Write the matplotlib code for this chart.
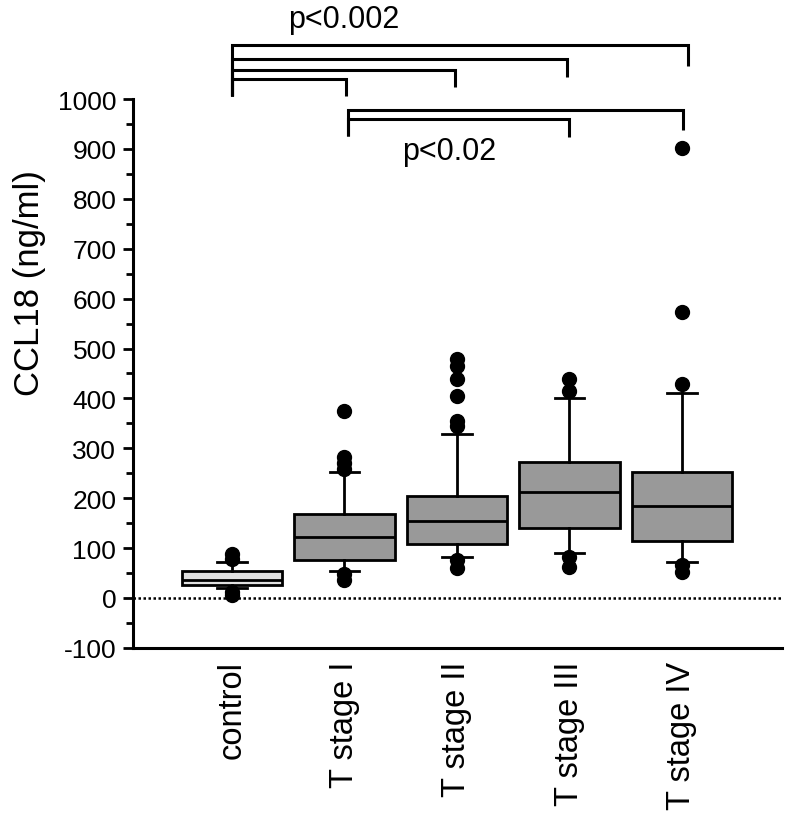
import matplotlib
matplotlib.use("Agg")
import matplotlib.pyplot as plt
from matplotlib.ticker import MultipleLocator

plt.rcParams['font.family'] = ['Liberation Sans', 'DejaVu Sans']
plt.rcParams['axes.unicode_minus'] = False

# ---- data ----
categories = ["control", "T stage I", "T stage II", "T stage III", "T stage IV"]
q1 = [26, 76, 108, 140, 114]
median = [36, 122, 154, 212, 184]
q3 = [54, 168, 204, 272, 253]
whisker_low = [20, 54, 82, 90, 72]
whisker_high = [72, 253, 329, 401, 411]
outliers_control = [88, 78, 12, 6]
outliers_t1 = [375, 282, 270, 258, 48, 36]
outliers_t2 = [479, 465, 439, 405, 355, 345, 76, 60]
outliers_t3 = [439, 415, 82, 62]
outliers_t4 = [902, 573, 429, 66, 52]
fliers = [outliers_control, outliers_t1, outliers_t2, outliers_t3, outliers_t4]
box_colors = ["#e0e0e0", "#999999", "#999999", "#999999", "#999999"]

yticks = [-100, 0, 100, 200, 300, 400, 500, 600, 700, 800, 900, 1000]

# significance annotations
p_top_label = "p<0.002"
p_bottom_label = "p<0.02"

fig = plt.figure(figsize=(7.88, 8.28), dpi=100)
ax = fig.add_axes([133/788, 1-648.9/828, (782-133)/788, (648.9-100)/828])

positions = list(range(1, len(categories) + 1))
stats = []
for i in range(len(categories)):
    stats.append(dict(med=median[i], q1=q1[i], q3=q3[i],
                      whislo=whisker_low[i], whishi=whisker_high[i],
                      fliers=fliers[i]))

lw = 2.0
bp = ax.bxp(stats, positions=positions, widths=0.89, patch_artist=True,
            capwidths=0.26,
            boxprops=dict(linewidth=lw, edgecolor='black'),
            medianprops=dict(linewidth=lw, color='black'),
            whiskerprops=dict(linewidth=lw, color='black'),
            capprops=dict(linewidth=lw, color='black'),
            flierprops=dict(marker='o', markerfacecolor='black',
                            markeredgecolor='black', markersize=10,
                            linestyle='none'))
for patch, c in zip(bp['boxes'], box_colors):
    patch.set_facecolor(c)
for f in bp['fliers']:
    f.set_zorder(5)

ax.axhline(0, color='black', linestyle=(0, (1, 1)), linewidth=1.8, zorder=0)

ax.set_xlim(0.12, 5.889)
ax.set_ylim(-100, 1000)
ax.set_yticks(yticks)
ax.yaxis.set_minor_locator(MultipleLocator(50))
ax.tick_params(axis='y', which='major', direction='out', length=7, width=2,
               labelsize=19, pad=5)
ax.tick_params(axis='y', which='minor', direction='out', length=5, width=2)
ax.set_xticks(positions)
ax.set_xticklabels(categories, rotation=90, va='top', ha='center', fontsize=23.5)
ax.tick_params(axis='x', which='both', length=0, pad=9)

for s in ['top', 'right']:
    ax.spines[s].set_visible(False)
for s in ['left', 'bottom']:
    ax.spines[s].set_linewidth(2.2)

ax.set_ylabel("CCL18 (ng/ml)", fontsize=25, va='center')
ax.yaxis.set_label_coords(-0.159, 0.667)

# brackets: (x_left, x_right, y_bar, y_left_end, y_right_end)
brackets = [
    (1.0, 5.05, 1108, 1006, 1066),
    (1.0, 3.98, 1080, 1006, 1044),
    (1.0, 2.98, 1058, 1006, 1024),
    (1.0, 2.013, 1040, 1006, 1006),
    (2.03, 5.01, 978, 926, 938),
    (2.03, 4.0, 960, 926, 924),
]
for xl, xr, yb, yl, yr in brackets:
    ax.plot([xl, xl, xr, xr], [yl, yb, yb, yr], color='black', lw=2.2,
            clip_on=False, solid_joinstyle='miter', solid_capstyle='butt')

ax.text(1.99, 1160, p_top_label, ha='center', va='center', fontsize=22,
        clip_on=False)
ax.text(2.93, 896, p_bottom_label, ha='center', va='center', fontsize=22,
        clip_on=False)

fig.savefig("out.png", dpi=100)
